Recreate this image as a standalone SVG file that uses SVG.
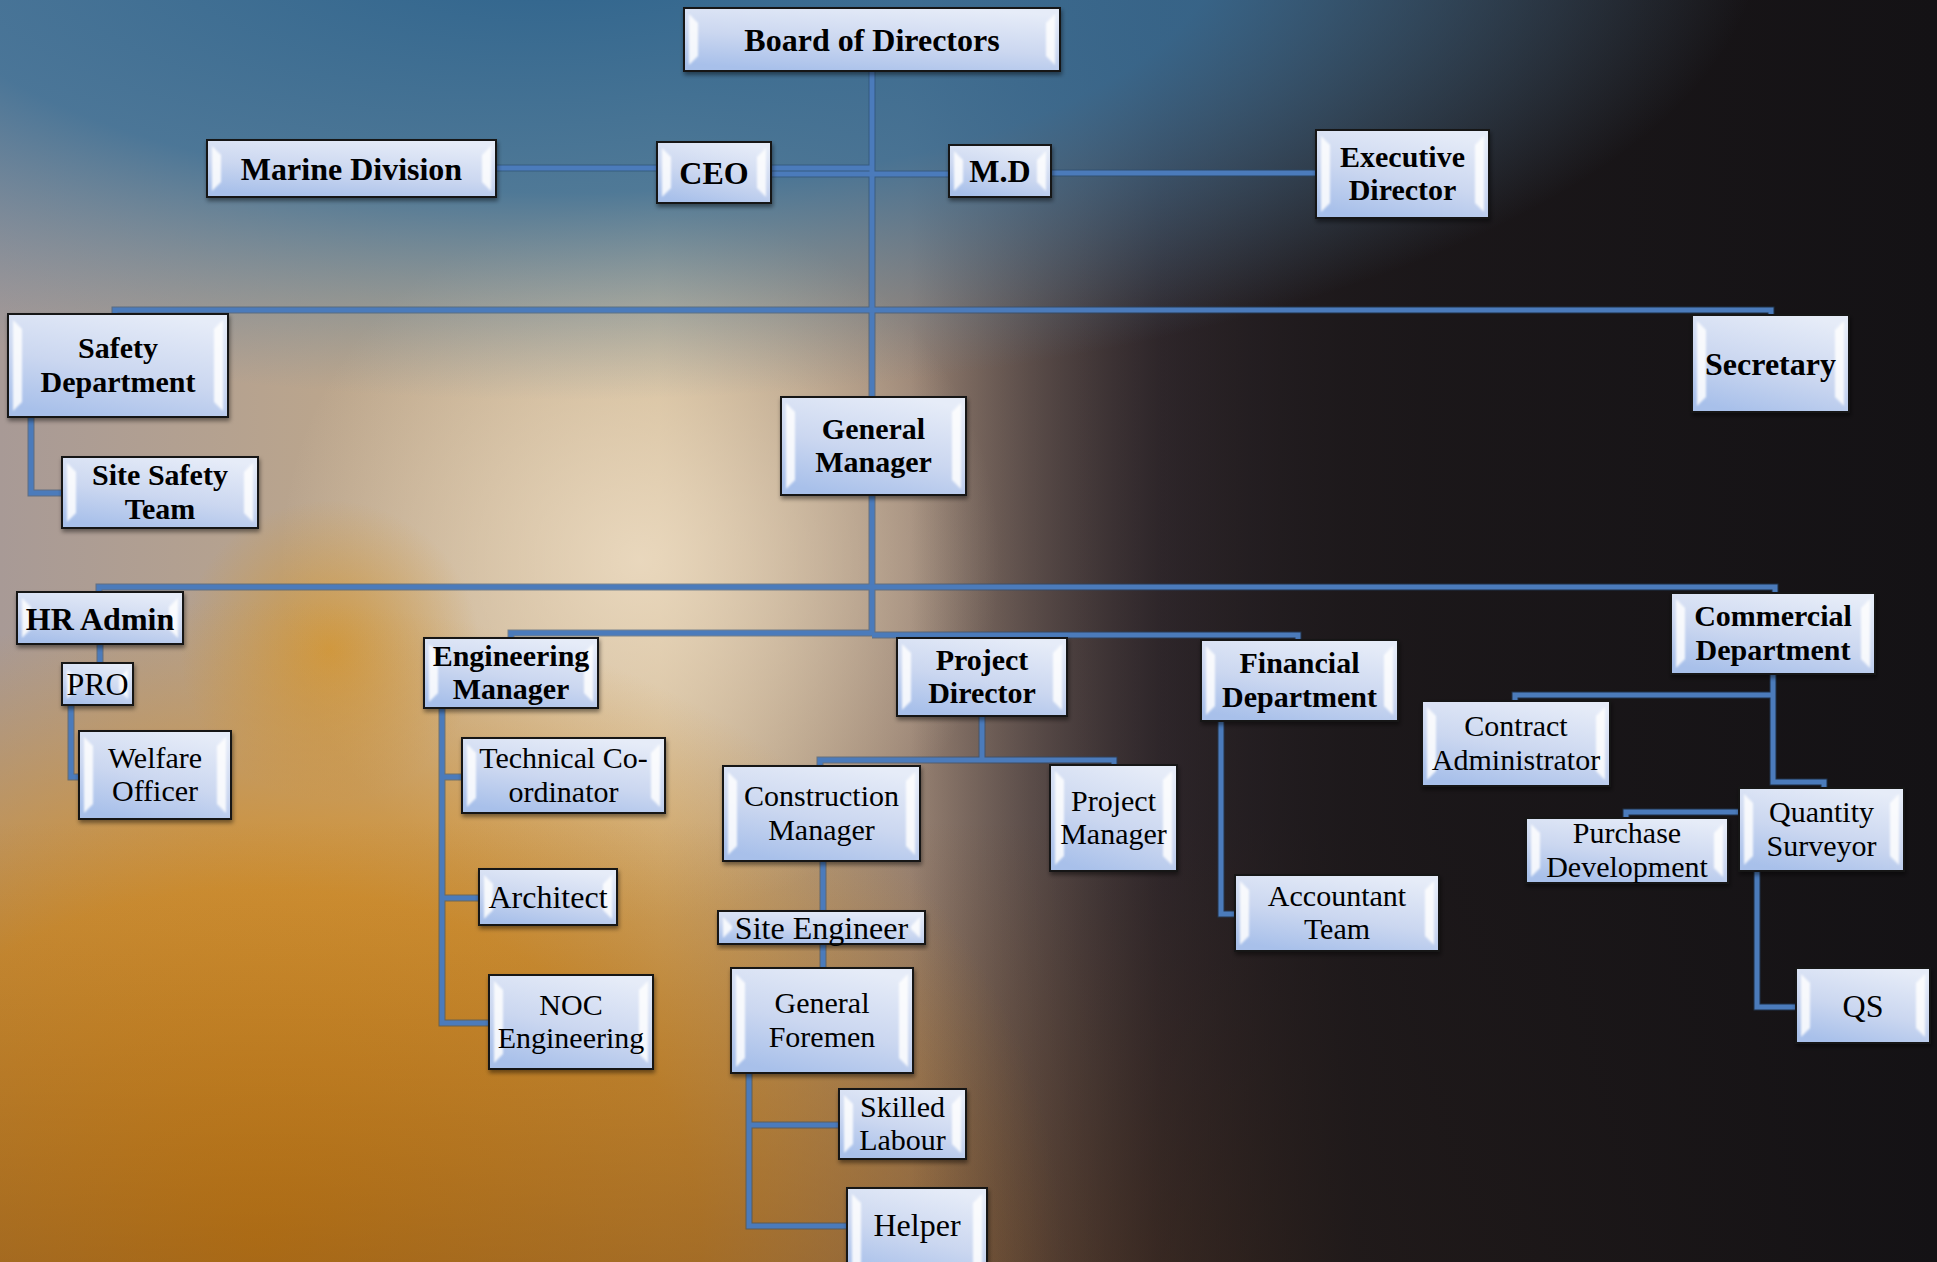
<svg xmlns="http://www.w3.org/2000/svg" width="1937" height="1262" viewBox="0 0 1937 1262">
<defs>
<linearGradient id="bgBase" x1="0" y1="0" x2="1" y2="0">
<stop offset="0" stop-color="#a89a96"/>
<stop offset="0.18" stop-color="#bca68c"/>
<stop offset="0.34" stop-color="#cdb590"/>
<stop offset="0.47" stop-color="#9a8474"/>
<stop offset="0.6" stop-color="#40343a"/>
<stop offset="0.74" stop-color="#201b20"/>
<stop offset="1" stop-color="#151417"/>
</linearGradient>
<radialGradient id="gBlue" cx="560" cy="-60" r="1000" gradientUnits="userSpaceOnUse" gradientTransform="translate(560,-60) scale(1.2,0.46) translate(-560,60)">
<stop offset="0" stop-color="#2c628c" stop-opacity="1"/>
<stop offset="0.55" stop-color="#3a6f98" stop-opacity="0.85"/>
<stop offset="1" stop-color="#5a80a0" stop-opacity="0"/>
</radialGradient>
<radialGradient id="gOrange" cx="260" cy="1240" r="800" gradientUnits="userSpaceOnUse" gradientTransform="translate(260,1240) scale(1,0.8) translate(-260,-1240)">
<stop offset="0" stop-color="#dc8c14" stop-opacity="1"/>
<stop offset="0.55" stop-color="#d68e22" stop-opacity="0.85"/>
<stop offset="1" stop-color="#d09030" stop-opacity="0"/>
</radialGradient>
<radialGradient id="gLight" cx="640" cy="560" r="360" gradientUnits="userSpaceOnUse">
<stop offset="0" stop-color="#f0e0c8" stop-opacity="0.8"/>
<stop offset="1" stop-color="#f0e0c8" stop-opacity="0"/>
</radialGradient>
<radialGradient id="gSpot" cx="330" cy="650" r="150" gradientUnits="userSpaceOnUse">
<stop offset="0" stop-color="#d4952e" stop-opacity="0.8"/>
<stop offset="1" stop-color="#d4952e" stop-opacity="0"/>
</radialGradient>
<linearGradient id="gDark" x1="0" y1="0" x2="1" y2="0">
<stop offset="0.47" stop-color="#1b1719" stop-opacity="0"/>
<stop offset="0.7" stop-color="#1b1719" stop-opacity="0.88"/>
<stop offset="1" stop-color="#141215" stop-opacity="1"/>
</linearGradient>
<linearGradient id="gBrown" x1="0" y1="0" x2="0" y2="1">
<stop offset="0.65" stop-color="#6a3e18" stop-opacity="0"/>
<stop offset="1" stop-color="#6a3e18" stop-opacity="0.45"/>
</linearGradient>
<linearGradient id="boxFill" x1="0.7" y1="0" x2="0.3" y2="1">
<stop offset="0" stop-color="#e6ecf8"/>
<stop offset="0.55" stop-color="#cbd7f0"/>
<stop offset="1" stop-color="#a8c0ea"/>
</linearGradient>
<filter id="shadow" x="-10%" y="-10%" width="120%" height="130%">
<feDropShadow dx="1" dy="3" stdDeviation="2" flood-color="#000" flood-opacity="0.45"/>
</filter>
<filter id="soft" x="-20%" y="-5%" width="140%" height="110%">
<feGaussianBlur stdDeviation="0.8"/>
</filter>
</defs>
<style>
.box{fill:url(#boxFill);stroke:#141414;stroke-width:2;filter:url(#shadow)}
.bv{fill:#ffffff;opacity:0.85;filter:url(#soft)}
text{font-family:"Liberation Serif","Times New Roman",serif;font-size:30px;fill:#000;text-anchor:middle}
text.s{font-size:32px}
.b{font-weight:bold}
.ln{fill:none;stroke-linejoin:miter}
.ln .o{stroke:#27486e;stroke-width:7;opacity:0.55}
.ln .i{stroke:#4b7bbb;stroke-width:5}
</style>

<rect width="1937" height="1262" fill="url(#bgBase)"/>
<rect width="1937" height="1262" fill="url(#gLight)"/>
<rect width="1937" height="1262" fill="url(#gSpot)"/>
<rect width="1937" height="1262" fill="url(#gOrange)"/>
<rect width="1937" height="1262" fill="url(#gBrown)"/>
<rect width="1937" height="1262" fill="url(#gDark)"/>
<rect width="1937" height="1262" fill="url(#gBlue)"/>

<g id="connectors" class="ln">
<g class="o">
<path d="M872,71 V397 M872,495 V633"/>
<path d="M496,168 H657 M771,168 H872 M771,174 H949 M1051,173 H1316"/>
<path d="M115,314 V310 H1771 V315"/>
<path d="M31,417 V493 H62"/>
<path d="M99,592 V587 H1775 V593"/>
<path d="M100,644 V663 M71,705 V777 H79"/>
<path d="M511,638 V633 H872 M872,635 H1298 V640 M983,635 V638"/>
<path d="M442,708 V1023 H489 M442,777 H462 M442,898 H479"/>
<path d="M982,716 V760 M820,766 V760 H1114 V765"/>
<path d="M823,861 V911 M823,944 V968"/>
<path d="M749,1073 V1226 H847 M749,1125 H839"/>
<path d="M1221,721 V914 H1235"/>
<path d="M1773,674 V782 H1824 V788 M1515,701 V695 H1773"/>
<path d="M1739,812 H1626 V818 M1757,871 V1007 H1796"/>
</g>
<g class="i">
<path d="M872,71 V397 M872,495 V633"/>
<path d="M496,168 H657 M771,168 H872 M771,174 H949 M1051,173 H1316"/>
<path d="M115,314 V310 H1771 V315"/>
<path d="M31,417 V493 H62"/>
<path d="M99,592 V587 H1775 V593"/>
<path d="M100,644 V663 M71,705 V777 H79"/>
<path d="M511,638 V633 H872 M872,635 H1298 V640 M983,635 V638"/>
<path d="M442,708 V1023 H489 M442,777 H462 M442,898 H479"/>
<path d="M982,716 V760 M820,766 V760 H1114 V765"/>
<path d="M823,861 V911 M823,944 V968"/>
<path d="M749,1073 V1226 H847 M749,1125 H839"/>
<path d="M1221,721 V914 H1235"/>
<path d="M1773,674 V782 H1824 V788 M1515,701 V695 H1773"/>
<path d="M1739,812 H1626 V818 M1757,871 V1007 H1796"/>
</g>
</g>

<g id="board"><rect class="box" x="684" y="8" width="376" height="63"/><polygon class="bv" points="689,14 698,23 698,56 689,65"/><polygon class="bv" points="1055,14 1046,23 1046,56 1055,65"/><text class="b s" x="872" y="51">Board of Directors</text></g>
<g id="marine"><rect class="box" x="207" y="140" width="289" height="57"/><polygon class="bv" points="212,146 221,155 221,182 212,191"/><polygon class="bv" points="491,146 482,155 482,182 491,191"/><text class="b s" x="351.5" y="179.5">Marine Division</text></g>
<g id="ceo"><rect class="box" x="657" y="142" width="114" height="61"/><polygon class="bv" points="662,148 671,157 671,188 662,197"/><polygon class="bv" points="766,148 757,157 757,188 766,197"/><text class="b s" x="714" y="183.5">CEO</text></g>
<g id="md"><rect class="box" x="949" y="145" width="102" height="52"/><polygon class="bv" points="954,151 963,160 963,182 954,191"/><polygon class="bv" points="1046,151 1037,160 1037,182 1046,191"/><text class="b s" x="1000" y="182">M.D</text></g>
<g id="exec"><rect class="box" x="1316" y="130" width="173" height="88"/><polygon class="bv" points="1321,136 1330,145 1330,203 1321,212"/><polygon class="bv" points="1484,136 1475,145 1475,203 1484,212"/><text class="b" x="1402.5" y="166.75">Executive<tspan x="1402.5" dy="33.5">Director</tspan></text></g>
<g id="safety"><rect class="box" x="8" y="314" width="220" height="103"/><polygon class="bv" points="13,320 22,329 22,402 13,411"/><polygon class="bv" points="223,320 214,329 214,402 223,411"/><text class="b" x="118" y="358.25">Safety<tspan x="118" dy="33.5">Department</tspan></text></g>
<g id="sitesafety"><rect class="box" x="62" y="457" width="196" height="71"/><polygon class="bv" points="67,463 76,472 76,513 67,522"/><polygon class="bv" points="253,463 244,472 244,513 253,522"/><text class="b" x="160" y="485.25">Site Safety<tspan x="160" dy="33.5">Team</tspan></text></g>
<g id="secretary"><rect class="box" x="1692" y="315" width="157" height="97"/><polygon class="bv" points="1697,321 1706,330 1706,397 1697,406"/><polygon class="bv" points="1844,321 1835,330 1835,397 1844,406"/><text class="b s" x="1770.5" y="374.5">Secretary</text></g>
<g id="gm"><rect class="box" x="781" y="397" width="185" height="98"/><polygon class="bv" points="786,403 795,412 795,480 786,489"/><polygon class="bv" points="961,403 952,412 952,480 961,489"/><text class="b" x="873.5" y="438.75">General<tspan x="873.5" dy="33.5">Manager</tspan></text></g>
<g id="hr"><rect class="box" x="17" y="592" width="166" height="52"/><polygon class="bv" points="22,598 31,607 31,629 22,638"/><polygon class="bv" points="178,598 169,607 169,629 178,638"/><text class="b s" x="100" y="630">HR Admin</text></g>
<g id="pro"><rect class="box" x="62" y="663" width="71" height="42"/><polygon class="bv" points="67,669 76,678 76,690 67,699"/><polygon class="bv" points="128,669 119,678 119,690 128,699"/><text class="s" x="97.5" y="695">PRO</text></g>
<g id="welfare"><rect class="box" x="79" y="731" width="152" height="88"/><polygon class="bv" points="84,737 93,746 93,804 84,813"/><polygon class="bv" points="226,737 217,746 217,804 226,813"/><text x="155" y="767.75">Welfare<tspan x="155" dy="33.5">Officer</tspan></text></g>
<g id="eng"><rect class="box" x="424" y="638" width="174" height="70"/><polygon class="bv" points="429,644 438,653 438,693 429,702"/><polygon class="bv" points="593,644 584,653 584,693 593,702"/><text class="b" x="511" y="665.75">Engineering<tspan x="511" dy="33.5">Manager</tspan></text></g>
<g id="tech"><rect class="box" x="462" y="738" width="203" height="75"/><polygon class="bv" points="467,744 476,753 476,798 467,807"/><polygon class="bv" points="660,744 651,753 651,798 660,807"/><text x="563.5" y="768.25">Technical Co-<tspan x="563.5" dy="33.5">ordinator</tspan></text></g>
<g id="architect"><rect class="box" x="479" y="869" width="138" height="56"/><polygon class="bv" points="484,875 493,884 493,910 484,919"/><polygon class="bv" points="612,875 603,884 603,910 612,919"/><text class="s" x="548" y="908">Architect</text></g>
<g id="noc"><rect class="box" x="489" y="975" width="164" height="94"/><polygon class="bv" points="494,981 503,990 503,1054 494,1063"/><polygon class="bv" points="648,981 639,990 639,1054 648,1063"/><text x="571" y="1014.75">NOC<tspan x="571" dy="33.5">Engineering</tspan></text></g>
<g id="pd"><rect class="box" x="897" y="638" width="170" height="78"/><polygon class="bv" points="902,644 911,653 911,701 902,710"/><polygon class="bv" points="1062,644 1053,653 1053,701 1062,710"/><text class="b" x="982" y="669.75">Project<tspan x="982" dy="33.5">Director</tspan></text></g>
<g id="cm"><rect class="box" x="723" y="766" width="197" height="95"/><polygon class="bv" points="728,772 737,781 737,846 728,855"/><polygon class="bv" points="915,772 906,781 906,846 915,855"/><text x="821.5" y="806.25">Construction<tspan x="821.5" dy="33.5">Manager</tspan></text></g>
<g id="pm"><rect class="box" x="1050" y="765" width="127" height="106"/><polygon class="bv" points="1055,771 1064,780 1064,856 1055,865"/><polygon class="bv" points="1172,771 1163,780 1163,856 1172,865"/><text x="1113.5" y="810.75">Project<tspan x="1113.5" dy="33.5">Manager</tspan></text></g>
<g id="se"><rect class="box" x="718" y="911" width="207" height="33"/><polygon class="bv" points="723,917 732,926 732,929 723,938"/><polygon class="bv" points="920,917 911,926 911,929 920,938"/><text class="s" x="821.5" y="938.5">Site Engineer</text></g>
<g id="gf"><rect class="box" x="731" y="968" width="182" height="105"/><polygon class="bv" points="736,974 745,983 745,1058 736,1067"/><polygon class="bv" points="908,974 899,983 899,1058 908,1067"/><text x="822" y="1013.25">General<tspan x="822" dy="33.5">Foremen</tspan></text></g>
<g id="skilled"><rect class="box" x="839" y="1089" width="127" height="70"/><polygon class="bv" points="844,1095 853,1104 853,1144 844,1153"/><polygon class="bv" points="961,1095 952,1104 952,1144 961,1153"/><text x="902.5" y="1116.75">Skilled<tspan x="902.5" dy="33.5">Labour</tspan></text></g>
<g id="helper"><rect class="box" x="847" y="1188" width="140" height="90"/><polygon class="bv" points="852,1194 861,1203 861,1263 852,1272"/><polygon class="bv" points="982,1194 973,1203 973,1263 982,1272"/><text class="s" x="917" y="1236">Helper</text></g>
<g id="fin"><rect class="box" x="1201" y="640" width="197" height="81"/><polygon class="bv" points="1206,646 1215,655 1215,706 1206,715"/><polygon class="bv" points="1393,646 1384,655 1384,706 1393,715"/><text class="b" x="1299.5" y="673.25">Financial<tspan x="1299.5" dy="33.5">Department</tspan></text></g>
<g id="acct"><rect class="box" x="1235" y="875" width="204" height="76"/><polygon class="bv" points="1240,881 1249,890 1249,936 1240,945"/><polygon class="bv" points="1434,881 1425,890 1425,936 1434,945"/><text x="1337" y="905.75">Accountant<tspan x="1337" dy="33.5">Team</tspan></text></g>
<g id="comm"><rect class="box" x="1671" y="593" width="204" height="81"/><polygon class="bv" points="1676,599 1685,608 1685,659 1676,668"/><polygon class="bv" points="1870,599 1861,608 1861,659 1870,668"/><text class="b" x="1773" y="626.25">Commercial<tspan x="1773" dy="33.5">Department</tspan></text></g>
<g id="contract"><rect class="box" x="1422" y="701" width="188" height="85"/><polygon class="bv" points="1427,707 1436,716 1436,771 1427,780"/><polygon class="bv" points="1605,707 1596,716 1596,771 1605,780"/><text x="1516" y="736.25">Contract<tspan x="1516" dy="33.5">Administrator</tspan></text></g>
<g id="qsurv"><rect class="box" x="1739" y="788" width="165" height="83"/><polygon class="bv" points="1744,794 1753,803 1753,856 1744,865"/><polygon class="bv" points="1899,794 1890,803 1890,856 1899,865"/><text x="1821.5" y="822.25">Quantity<tspan x="1821.5" dy="33.5">Surveyor</tspan></text></g>
<g id="purchase"><rect class="box" x="1526" y="818" width="202" height="65"/><polygon class="bv" points="1531,824 1540,833 1540,868 1531,877"/><polygon class="bv" points="1723,824 1714,833 1714,868 1723,877"/><text x="1627" y="843.25">Purchase<tspan x="1627" dy="33.5">Development</tspan></text></g>
<g id="qs"><rect class="box" x="1796" y="968" width="134" height="75"/><polygon class="bv" points="1801,974 1810,983 1810,1028 1801,1037"/><polygon class="bv" points="1925,974 1916,983 1916,1028 1925,1037"/><text class="s" x="1863" y="1016.5">QS</text></g>
</svg>
